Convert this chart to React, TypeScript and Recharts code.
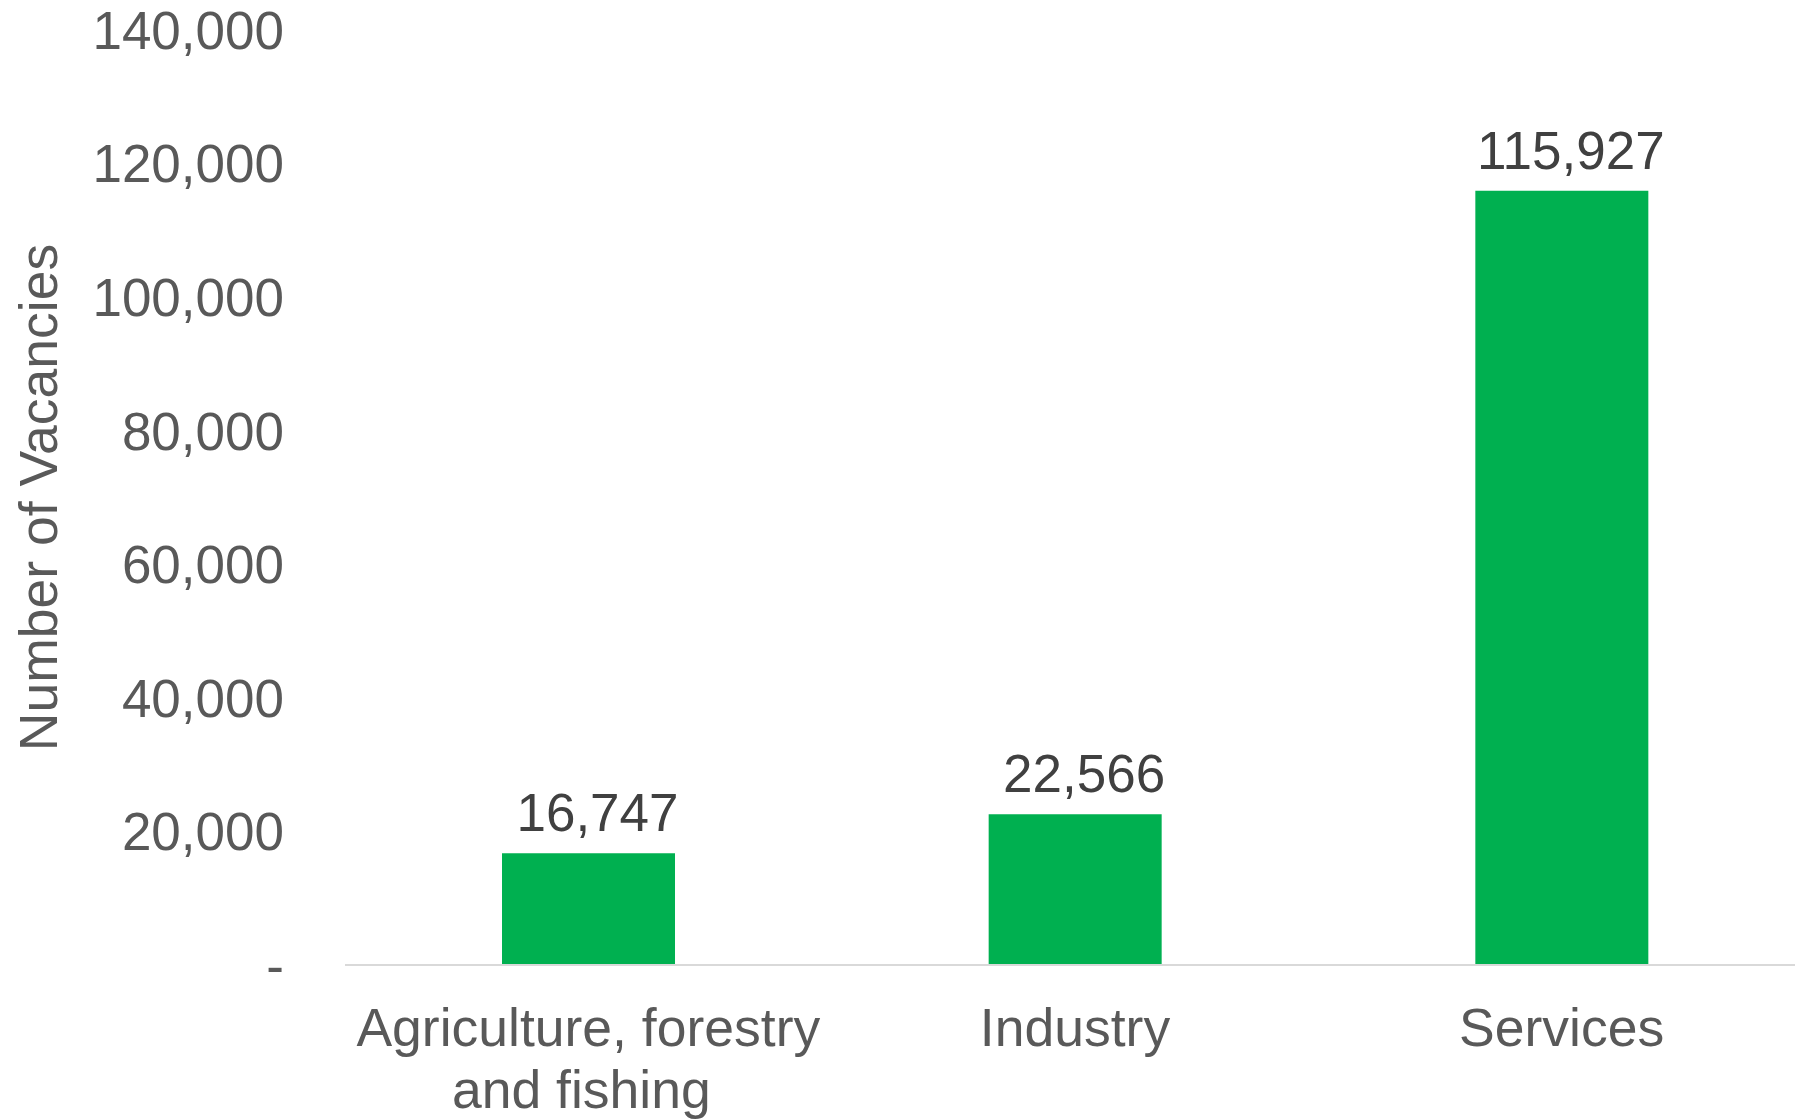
import React from "react";
import { BarChart, Bar, XAxis, YAxis, LabelList, Label } from "recharts";

const categories = ["Agriculture, forestry and fishing", "Industry", "Services"];
const categoryLines = [["Agriculture, forestry", "and fishing"], ["Industry"], ["Services"]];
const vacancies = [16747, 22566, 115927];
const yTicks = [0, 20000, 40000, 60000, 80000, 100000, 120000, 140000];

const data = categories.map((c, i) => ({ name: c, value: vacancies[i] }));

const FONT = "'Liberation Sans', Arial, sans-serif";

const fmt = (v: number) => (v === 0 ? "-" : v.toLocaleString("en-US"));

const XTick = (props: any) => {
  const { x, y, payload } = props;
  const lines = categoryLines[payload.index] || [String(payload.value)];
  return (
    <text x={x} y={y} textAnchor="middle" fill="#595959" fontSize={53.5} fontFamily={FONT}>
      {lines.map((l: string, i: number) => (
        <tspan key={i} x={i === 0 ? x : Number(x) - 7} dy={i === 0 ? 81 : 62}>
          {l}
        </tspan>
      ))}
    </text>
  );
};

const ValueLabel = (props: any) => {
  const { x, y, width, value } = props;
  return (
    <text
      x={Number(x) + Number(width) / 2 + 9}
      y={Number(y) - 22}
      textAnchor="middle"
      fill="#404040"
      fontSize={53}
      fontFamily={FONT}
    >
      {Number(value).toLocaleString("en-US")}
    </text>
  );
};

const YTitle = (props: any) => {
  const vb = props.viewBox || {};
  const cx = (vb.x || 0) + 57;
  const cy = (vb.y || 0) + (vb.height || 0) / 2;
  return (
    <text
      x={cx}
      y={cy}
      transform={`rotate(-90, ${cx}, ${cy})`}
      textAnchor="middle"
      fill="#595959"
      fontSize={53.5}
      fontFamily={FONT}
    >
      Number of Vacancies
    </text>
  );
};

export default function App() {
  return (
    <div
      style={{
        position: "absolute",
        left: 0,
        top: 0,
        width: 1795,
        height: 1119,
        overflow: "hidden",
        background: "#ffffff",
      }}
    >
      <BarChart
        width={1805}
        height={1119}
        data={data}
        margin={{ top: 30, right: 0, bottom: 0, left: 0 }}
      >
        <XAxis
          dataKey="name"
          height={154}
          axisLine={{ stroke: "#d9d9d9", strokeWidth: 2 }}
          tickLine={false}
          tickSize={0}
          tickMargin={0}
          interval={0}
          tick={<XTick />}
        />
        <YAxis
          width={345}
          domain={[0, 140000]}
          ticks={yTicks}
          interval={0}
          axisLine={false}
          tickLine={false}
          tickSize={0}
          tickMargin={61}
          tickFormatter={fmt}
          tick={{ fill: "#595959", fontSize: 53, fontFamily: FONT }}
        >
          <Label content={<YTitle />} position="insideLeft" />
        </YAxis>
        <Bar dataKey="value" fill="#00B050" barSize={173} isAnimationActive={false}>
          <LabelList dataKey="value" content={<ValueLabel />} />
        </Bar>
      </BarChart>
    </div>
  );
}
